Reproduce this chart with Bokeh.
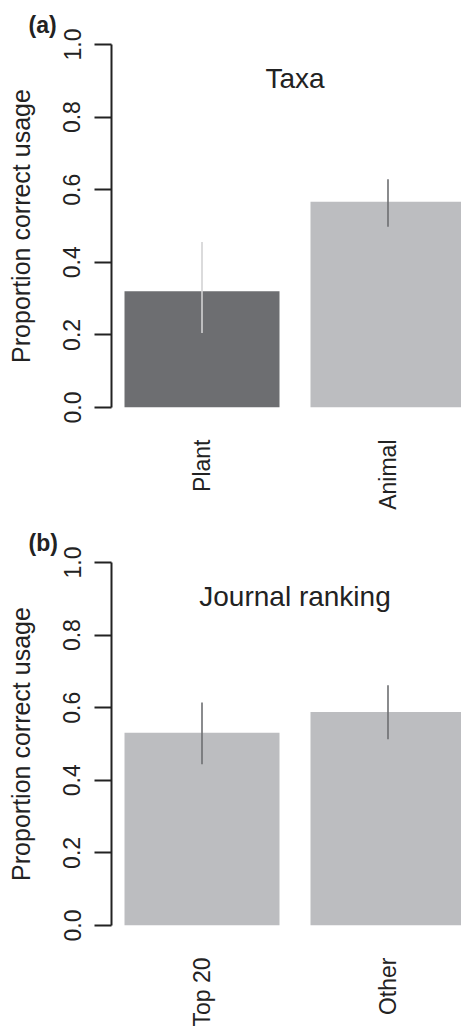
import numpy as np
from bokeh.plotting import figure
from bokeh.layouts import column
from bokeh.models import Range1d, FixedTicker, Label, ColumnDataSource, PrintfTickFormatter
from bokeh.embed import file_html
from bokeh.resources import INLINE

FONT = "Liberation Sans"

# ---- data ----
taxa_cats = ["Plant", "Animal"]
taxa_vals = [0.32, 0.567]
taxa_lo = [0.205, 0.498]
taxa_hi = [0.456, 0.629]
taxa_fill = ["#6d6e71", "#bcbdc0"]
taxa_err_col = ["#d2d2d4", "#6d6e71"]

journal_cats = ["Top 20", "Other"]
journal_vals = [0.531, 0.588]
journal_lo = [0.444, 0.513]
journal_hi = [0.614, 0.662]
journal_fill = ["#bcbdc0", "#bcbdc0"]
journal_err_col = ["#6d6e71", "#6d6e71"]

y_ticks = [0.0, 0.2, 0.4, 0.6, 0.8, 1.0]


def panel(cats, vals, lo, hi, fills, errc, title, tag, height, top, bottom):
    n = len(cats)
    xpos = list(np.arange(1, n + 1))
    p = figure(width=461, height=height, output_backend="svg", toolbar_location=None,
               x_range=Range1d(0.5134, 2.3952), y_range=Range1d(0, 1),
               min_border_left=111, min_border_right=0, min_border_top=top,
               min_border_bottom=bottom, frame_width=350, frame_height=363,
               background_fill_color="white", border_fill_color="white",
               outline_line_color=None, title=tag, title_location="above")
    p.title.align = "left"
    p.title.offset = -83
    p.title.text_font = FONT
    p.title.text_font_size = "23px"
    p.title.text_font_style = "bold"
    p.title.text_color = "#222222"
    p.title.standoff = 14
    p.grid.visible = False
    src = ColumnDataSource(dict(x=xpos, top=vals, lo=lo, hi=hi, fill=fills, ec=errc))
    p.vbar(x="x", top="top", bottom=0, width=1 / 1.2, fill_color="fill",
           line_color=None, source=src)
    p.segment(x0="x", x1="x", y0="lo", y1="hi", line_color="ec", line_width=1.6,
              source=src)

    # y axis
    ya = p.yaxis[0]
    ya.ticker = FixedTicker(ticks=y_ticks)
    ya.formatter = PrintfTickFormatter(format="%.1f")
    ya.axis_label = "Proportion correct usage"
    ya.axis_label_text_font = FONT
    ya.axis_label_text_font_size = "25px"
    ya.axis_label_text_font_style = "normal"
    ya.axis_label_text_color = "#222222"
    ya.axis_label_standoff = 26
    ya.major_label_orientation = "vertical"
    ya.major_label_text_font = FONT
    ya.major_label_text_font_size = "23px"
    ya.major_label_text_color = "#222222"
    ya.major_label_standoff = 14
    ya.major_tick_out = 17
    ya.major_tick_in = 0
    ya.minor_tick_out = 0
    ya.minor_tick_in = 0
    ya.axis_line_width = 2
    ya.axis_line_color = "#222222"
    ya.major_tick_line_width = 2
    ya.major_tick_line_color = "#222222"

    # x axis
    xa = p.xaxis[0]
    xa.ticker = FixedTicker(ticks=xpos)
    xa.major_label_overrides = {int(x): c for x, c in zip(xpos, cats)}
    xa.major_label_orientation = np.pi / 2
    xa.major_label_text_font = FONT
    xa.major_label_text_font_size = "23px"
    xa.major_label_text_color = "#222222"
    xa.major_label_standoff = 26
    xa.axis_line_color = None
    xa.major_tick_line_color = None
    xa.minor_tick_line_color = None

    p.add_layout(Label(x=float(np.mean(xpos)), y=0.905, text=title, text_font=FONT,
                       text_font_size="28px", text_color="#222222",
                       text_align="center", text_baseline="middle"))
    return p


p1 = panel(taxa_cats, taxa_vals, taxa_lo, taxa_hi, taxa_fill, taxa_err_col,
           "Taxa", "(a)", 518, 44, 111)
p2 = panel(journal_cats, journal_vals, journal_lo, journal_hi, journal_fill,
           journal_err_col, "Journal ranking", "(b)", 513, 44, 106)

layout = column(p1, p2, spacing=0)
open("out.html", "w").write(file_html(layout, INLINE))
